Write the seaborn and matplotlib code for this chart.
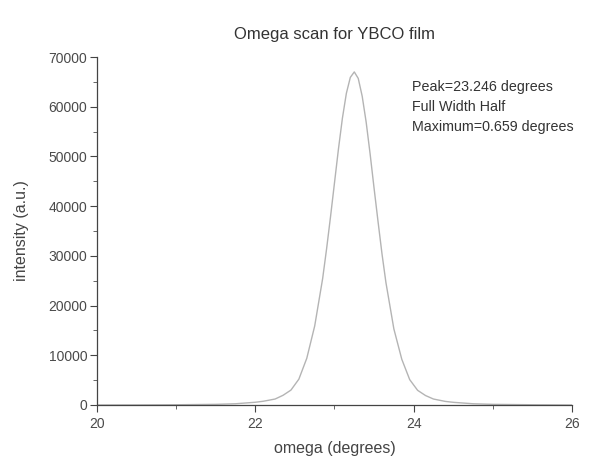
import matplotlib
matplotlib.use("Agg")
import matplotlib.pyplot as plt
import seaborn as sns
import pandas as pd
from matplotlib.ticker import MultipleLocator

omega = [20.0, 20.5, 21.0, 21.5, 21.75, 22.0, 22.1, 22.25, 22.35, 22.45, 22.55,
         22.65, 22.75, 22.85, 22.9, 22.95, 23.0, 23.05, 23.1, 23.15, 23.2, 23.25,
         23.3, 23.35, 23.4, 23.45, 23.5, 23.55, 23.6, 23.65, 23.75, 23.85, 23.95,
         24.05, 24.15, 24.25, 24.4, 24.5, 24.75, 25.0, 25.5, 26.0]
intensity = [0, 20, 50, 130, 250, 550, 750, 1200, 1950, 3000, 5200,
             9400, 15900, 25400, 31400, 37900, 44700, 51500, 57700, 62700, 65900, 67000,
             65700, 62100, 56900, 50500, 43600, 36900, 30400, 24600, 15300, 9200, 5100,
             2950, 1900, 1200, 720, 540, 250, 130, 50, 0]

title = "Omega scan for YBCO film"
xlabel = "omega (degrees)"
ylabel = "intensity (a.u.)"
note = "Peak=23.246 degrees\nFull Width Half\nMaximum=0.659 degrees"
xticks = [20, 22, 24, 26]
yticks = [0, 10000, 20000, 30000, 40000, 50000, 60000, 70000]

sns.set_theme(style="ticks")
plt.rcParams['font.family'] = ['Liberation Sans', 'DejaVu Sans']

df = pd.DataFrame({"omega": omega, "intensity": intensity})

fig = plt.figure(figsize=(6.04, 4.62), dpi=100)
ax = fig.add_axes([0.1606, 0.1234, 0.7864, 0.7532])
sns.lineplot(data=df, x="omega", y="intensity", ax=ax, color="#b4b4b4", linewidth=1.0)

ax.set_xlim(20, 26)
ax.set_ylim(0, 70000)
ax.set_xticks(xticks)
ax.set_xticklabels([str(t) for t in xticks])
ax.set_yticks(yticks)
ax.set_yticklabels([str(t) for t in yticks])
ax.xaxis.set_minor_locator(MultipleLocator(1))
ax.yaxis.set_minor_locator(MultipleLocator(5000))

for s in ["top", "right"]:
    ax.spines[s].set_visible(False)
for s in ["left", "bottom"]:
    ax.spines[s].set_color("#444444")
    ax.spines[s].set_linewidth(0.9)

ax.tick_params(axis="both", which="major", length=5, width=0.8, color="#444444",
               labelsize=10, labelcolor="#4a4a4a", direction="out", pad=2)
ax.tick_params(axis="x", which="major", pad=4)
ax.tick_params(axis="both", which="minor", length=3, width=0.7, color="#666666",
               direction="out")

ax.set_title(title, fontsize=12, color="#333333", pad=13)
ax.set_xlabel(xlabel, fontsize=11.5, color="#444444", labelpad=7)
ax.set_ylabel(ylabel, fontsize=11.5, color="#444444", labelpad=14)

ax.text(0.664, 0.935, note, transform=ax.transAxes, fontsize=10.3, color="#333333",
        va="top", ha="left", linespacing=1.58)

fig.savefig("out.png", dpi=100)
